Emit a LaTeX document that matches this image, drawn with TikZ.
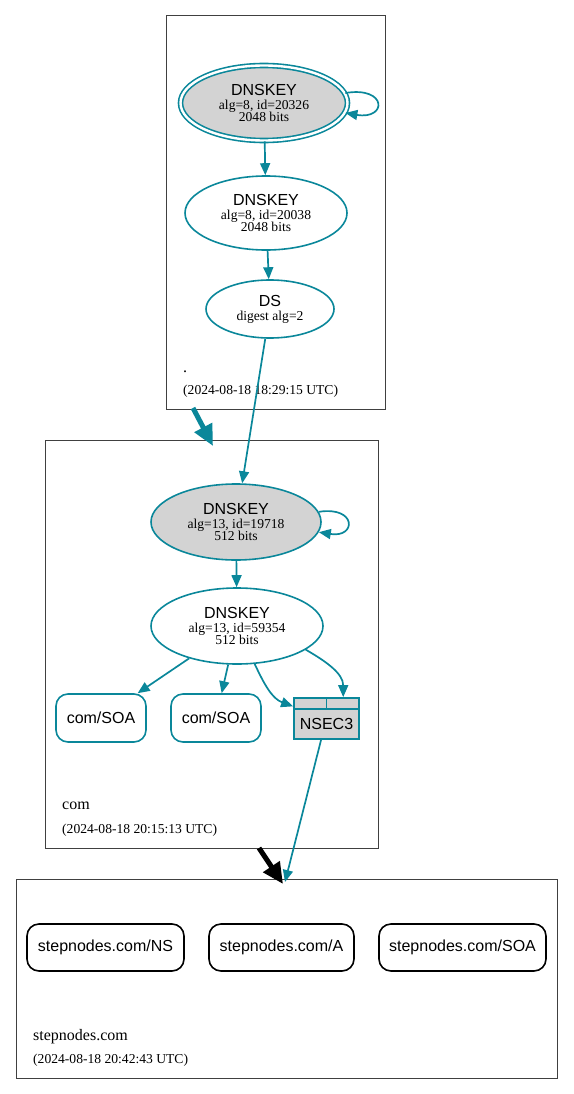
\documentclass[tikz,border=0pt]{standalone}
\usepackage{fontspec}
\setmainfont{Liberation Serif}
\setsansfont{Liberation Sans}
\usetikzlibrary{arrows.meta,shapes.geometric,fit}
\definecolor{secure}{HTML}{0A879A}
\definecolor{sepfill}{HTML}{D3D3D3}
\newcommand{\keytext}[3]{{\sffamily\fontsize{16}{15}\selectfont #1}\\[1pt]#2\\[-1pt]#3}
\tikzset{
  x=1pt, y=1pt,
  zonebox/.style={draw=black!75, line width=0.8pt, inner sep=0pt},
  zonename/.style={anchor=base west, inner sep=0pt, font=\fontsize{16}{16}\selectfont},
  zonedate/.style={anchor=base west, inner sep=0pt, font=\fontsize{13.6}{14}\selectfont},
  keynode/.style={ellipse, draw=secure, line width=1.6pt, inner sep=0pt, align=center,
    font=\fontsize{13.6}{13}\selectfont},
  ksk/.style={keynode, fill=sepfill},
  dsnode/.style={keynode},
  rrset/.style={rectangle, rounded corners=12pt, line width=1.6pt, inner sep=0pt,
    font=\sffamily\fontsize{16}{16}\selectfont},
  nsecbox/.style={rectangle, draw=secure, fill=sepfill, line width=1.8pt, inner sep=0pt,
    minimum width=65pt, minimum height=41pt},
  edge/.style={draw=secure, line width=1.7pt, -{Triangle[length=12pt,width=10pt]}},
  deleg/.style={line width=5pt, -{Triangle[length=21pt,width=19pt]}}
}
\begin{document}
\begin{tikzpicture}
  \useasboundingbox (0,0) rectangle (573,-1094);
  % zones
  \node[zonebox, fit={(166,-15) (385,-409)}] (rootzone) {};
  \node[zonebox, fit={(45,-440) (378,-848)}] (comzone) {};
  \node[zonebox, fit={(16,-879) (557,-1078)}] (stepzone) {};
  \node[zonename] (rootname) at (183,-372) {.};
  \node[zonedate] (rootdate) at (183,-394) {(2024-08-18 18:29:15 UTC)};
  \node[zonename] (comname) at (62,-809) {com};
  \node[zonedate] (comdate) at (62,-833) {(2024-08-18 20:15:13 UTC)};
  \node[zonename] (stepname) at (33,-1040) {stepnodes.com};
  \node[zonedate] (stepdate) at (33,-1063) {(2024-08-18 20:42:43 UTC)};
  % keys
  \node[ksk, double=white, double distance=2.4pt, minimum width=167pt, minimum height=75pt]
    (rootksk) at (264,-103) {\keytext{DNSKEY}{alg=8, id=20326}{2048 bits}};
  \node[keynode, minimum width=162pt, minimum height=74pt]
    (rootzsk) at (266,-213) {\keytext{DNSKEY}{alg=8, id=20038}{2048 bits}};
  \node[dsnode, minimum width=128pt, minimum height=58pt]
    (comds) at (270,-309) {{\sffamily\fontsize{16}{15}\selectfont DS}\\[1pt]digest alg=2};
  \node[ksk, minimum width=170pt, minimum height=76pt]
    (comksk) at (236,-522) {\keytext{DNSKEY}{alg=13, id=19718}{512 bits}};
  \node[keynode, minimum width=172pt, minimum height=76pt]
    (comzsk) at (237,-626) {\keytext{DNSKEY}{alg=13, id=59354}{512 bits}};
  % rrsets
  \node[rrset, draw=secure, minimum width=90pt, minimum height=48pt] (comsoa1) at (101,-718) {com/SOA};
  \node[rrset, draw=secure, minimum width=90pt, minimum height=48pt] (comsoa2) at (216,-718) {com/SOA};
  \node[nsecbox] (nsec3) at (326.5,-718.5) {};
  \draw[secure, line width=1.6pt] (nsec3.north west) ++(0,-12) -- ++(65,0)
    (nsec3.north) -- ++(0,-12);
  \node[font=\sffamily\fontsize{16}{16}\selectfont] (nsec3text) at (326.5,-724) {NSEC3};
  \node[rrset, draw=black, minimum width=157pt, minimum height=47pt] (stepns) at (105.5,-947.5) {stepnodes.com/NS};
  \node[rrset, draw=black, minimum width=145pt, minimum height=47pt] (stepa) at (281.5,-947.5) {stepnodes.com/A};
  \node[rrset, draw=black, minimum width=167pt, minimum height=47pt] (stepsoa) at (462.5,-947.5) {stepnodes.com/SOA};
  % delegations
  \coordinate (rootdel) at (193,-408);
  \coordinate (comtop) at (213,-446);
  \coordinate (comdel) at (259,-848);
  \coordinate (steptop) at (283,-884);
  \coordinate (nsecend) at (285,-882);
  \draw[deleg, secure] (rootdel) -- (comtop);
  \draw[deleg, black] (comdel) -- (steptop);
  \begin{scope}[edge]
    \draw (rootksk.7) .. controls +(42,7) and +(42,-7) .. (rootksk.-7);
    \draw (rootksk) to (rootzsk);
    \draw (rootzsk) to (comds);
    \draw (comds) to (comksk);
    \draw (comksk.7) .. controls +(38,6) and +(38,-6) .. (comksk.-7);
    \draw (comksk) to (comzsk);
    \draw (comzsk) to (comsoa1);
    \draw (comzsk) to (comsoa2);
    \draw (comzsk) to[out=-65,in=160] (nsec3);
    \draw (comzsk.-19) to[out=-30,in=90] (nsec3.52);
    \draw (nsec3) to (nsecend);
  \end{scope}
\end{tikzpicture}
\end{document}
